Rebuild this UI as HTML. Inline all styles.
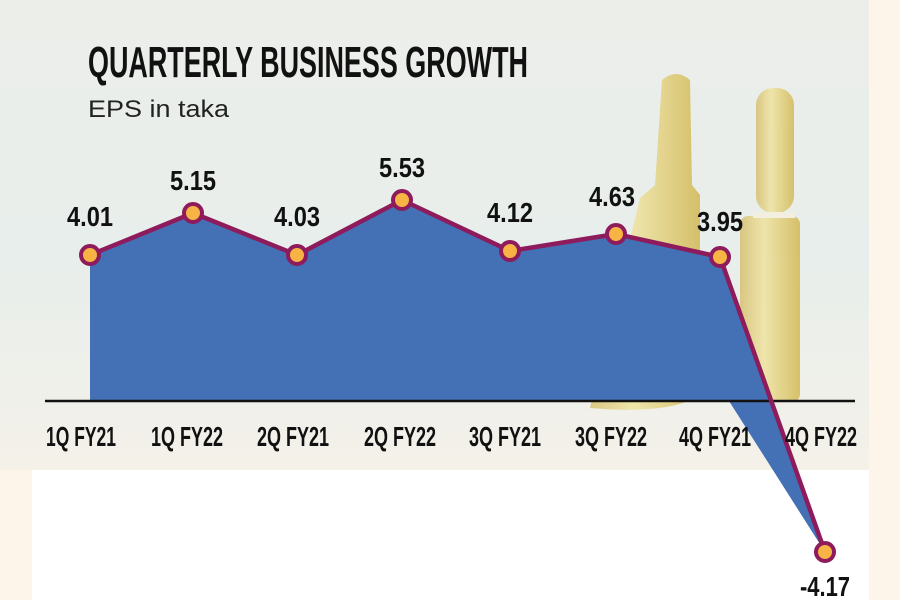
<!DOCTYPE html>
<html><head><meta charset="utf-8"><style>
html,body{margin:0;padding:0;width:900px;height:600px;overflow:hidden;background:#fdf4ea}
svg{display:block}
text{font-family:"Liberation Sans",sans-serif}
</style></head><body>
<svg width="900" height="600" viewBox="0 0 900 600" xmlns="http://www.w3.org/2000/svg">
<defs>
<linearGradient id="bg" x1="0" y1="0" x2="0" y2="1">
<stop offset="0" stop-color="#eceeea"/><stop offset="0.55" stop-color="#e8eeeb"/><stop offset="1" stop-color="#f4f1e9"/>
</linearGradient>
<linearGradient id="amp" x1="0" y1="0" x2="1" y2="0">
<stop offset="0" stop-color="#d6c070"/><stop offset="0.4" stop-color="#efe3a0"/><stop offset="1" stop-color="#d2b854"/>
</linearGradient>
</defs>
<rect x="0" y="0" width="869" height="470" fill="url(#bg)"/>
<rect x="32" y="470" width="837" height="130" fill="#ffffff"/>
<!-- ampoules -->
<g opacity="0.85">
<path d="M662 80 Q676 68 690 80 L692 185 L700 195 L700 395 Q670 415 590 408 L640 198 L655 185 Z" fill="url(#amp)"/>
<rect x="756" y="88" width="38" height="125" rx="17" fill="url(#amp)"/>
<rect x="740" y="216" width="60" height="186" rx="8" fill="url(#amp)"/>
<rect x="753" y="212" width="42" height="6" fill="#f4f0e0"/>
</g>
<text x="88" y="77" font-size="44" font-weight="bold" textLength="440" lengthAdjust="spacingAndGlyphs" fill="#111">QUARTERLY BUSINESS GROWTH</text>
<text x="88" y="117" font-size="24" textLength="141" lengthAdjust="spacingAndGlyphs" fill="#222">EPS in taka</text>
<polygon points="90,401 90,255 193,213 297,255 402,200 510,251 616,234 720,257 825,552 729,401" fill="#4470b5"/>
<line x1="45" y1="401" x2="855" y2="401" stroke="#111" stroke-width="2.5"/>
<polyline points="90,255 193,213 297,255 402,200 510,251 616,234 720,257 825,552" fill="none" stroke="#8e1b5c" stroke-width="4.5" stroke-linejoin="round"/>
<g fill="#f7b344" stroke="#8e1b5c" stroke-width="4">
<circle cx="90" cy="255" r="9"/><circle cx="193" cy="213" r="9"/><circle cx="297" cy="255" r="9"/><circle cx="402" cy="200" r="9"/>
<circle cx="510" cy="251" r="9"/><circle cx="616" cy="234" r="9"/><circle cx="720" cy="257" r="9"/><circle cx="825" cy="552" r="9"/>
</g>
<g font-size="28" font-weight="bold" fill="#111" text-anchor="middle">
<text x="90" y="226" textLength="46" lengthAdjust="spacingAndGlyphs">4.01</text>
<text x="193" y="190" textLength="46" lengthAdjust="spacingAndGlyphs">5.15</text>
<text x="297" y="226" textLength="46" lengthAdjust="spacingAndGlyphs">4.03</text>
<text x="402" y="177" textLength="46" lengthAdjust="spacingAndGlyphs">5.53</text>
<text x="510" y="222" textLength="46" lengthAdjust="spacingAndGlyphs">4.12</text>
<text x="612" y="206" textLength="46" lengthAdjust="spacingAndGlyphs">4.63</text>
<text x="720" y="231" textLength="46" lengthAdjust="spacingAndGlyphs">3.95</text>
<text x="825" y="596" textLength="50" lengthAdjust="spacingAndGlyphs">-4.17</text>
</g>
<g font-size="28" font-weight="bold" fill="#111" text-anchor="middle">
<text x="81" y="446" textLength="70" lengthAdjust="spacingAndGlyphs">1Q FY21</text>
<text x="187" y="446" textLength="72" lengthAdjust="spacingAndGlyphs">1Q FY22</text>
<text x="293" y="446" textLength="72" lengthAdjust="spacingAndGlyphs">2Q FY21</text>
<text x="400" y="446" textLength="72" lengthAdjust="spacingAndGlyphs">2Q FY22</text>
<text x="505" y="446" textLength="72" lengthAdjust="spacingAndGlyphs">3Q FY21</text>
<text x="611" y="446" textLength="72" lengthAdjust="spacingAndGlyphs">3Q FY22</text>
<text x="715" y="446" textLength="72" lengthAdjust="spacingAndGlyphs">4Q FY21</text>
<text x="821" y="446" textLength="72" lengthAdjust="spacingAndGlyphs">4Q FY22</text>
</g>
</svg>
</body></html>
